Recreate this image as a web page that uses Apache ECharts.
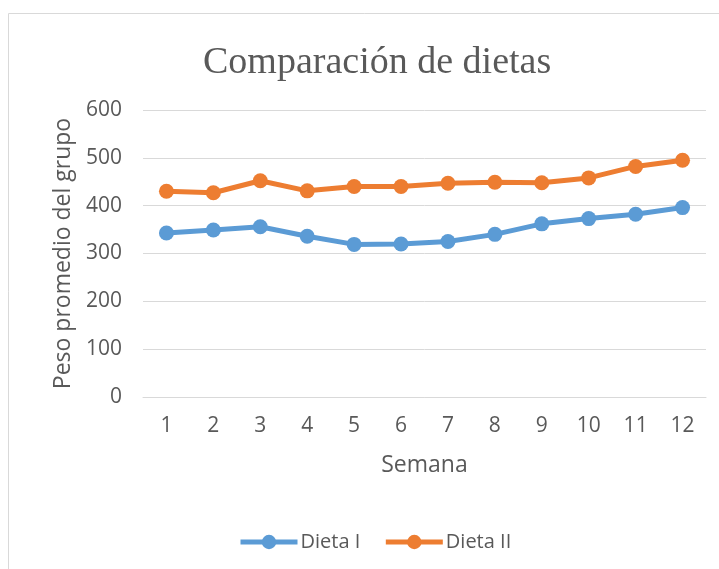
<!DOCTYPE html>
<html><head><meta charset="utf-8">
<script src="https://cdn.jsdelivr.net/npm/echarts@6/dist/echarts.min.js"></script>
<style>html,body{margin:0;padding:0;background:#fff}#c{width:719px;height:569px}</style>
</head><body><div id="c"></div>
<script>
const categories = ['1','2','3','4','5','6','7','8','9','10','11','12'];
const dietaI = [343, 349, 356, 336, 319, 320, 325, 340, 362, 373, 382, 396];
const dietaII = [430, 427, 452, 431, 440, 440, 447, 449, 448, 458, 482, 495];
const seriesNames = ['Dieta I', 'Dieta II'];
const yTicks = {min: 0, max: 600, interval: 100};

const chart = echarts.init(document.getElementById('c'));
const txt = '#595959';
const sans = '"Open Sans", "Noto Sans", sans-serif';
chart.setOption({
  animation: false,
  graphic: [
    {type:'rect', shape:{x:8.5, y:13.5, width:720, height:570}, style:{fill:'none', stroke:'#d9d9d9', lineWidth:1}, silent:true},
    {type:'text', left: 203, top: 44, style:{text:'Comparación de dietas', font:'38px "Liberation Serif", "DejaVu Serif", serif', fill: txt}, silent:true}
  ],
  grid: {left: 143, right: 13, top: 110, bottom: 172},
  legend: {top: 527, left: 233, itemWidth: 57, itemHeight: 18, itemGap: 23,
    lineStyle: {width: 5},
    textStyle: {fontFamily: sans, fontSize: 20, color: txt, padding: [0,0,0,-2]}, data: seriesNames},
  xAxis: {type: 'category', data: categories, boundaryGap: true,
    name: 'Semana', nameLocation: 'middle', nameGap: 57,
    nameTextStyle: {fontFamily: sans, fontSize: 23, color: txt},
    axisLine: {lineStyle: {color: '#d9d9d9', width: 1}}, axisTick: {show: false},
    axisLabel: {fontFamily: sans, fontSize: 21, color: txt, margin: 19}},
  yAxis: {type: 'value', min: yTicks.min, max: yTicks.max, interval: yTicks.interval,
    name: 'Peso promedio del grupo', nameLocation: 'middle', nameGap: 67,
    nameTextStyle: {fontFamily: sans, fontSize: 23, color: txt},
    axisLine: {show: false}, axisTick: {show: false},
    splitLine: {lineStyle: {color: '#d9d9d9', width: 1}},
    axisLabel: {fontFamily: sans, fontSize: 21, color: txt, margin: 21}},
  series: [
    {name: seriesNames[0], type: 'line', data: dietaI, symbol: 'circle', symbolSize: 15,
      lineStyle: {width: 5, color: '#5B9BD5'}, itemStyle: {color: '#5B9BD5'}},
    {name: seriesNames[1], type: 'line', data: dietaII, symbol: 'circle', symbolSize: 15,
      lineStyle: {width: 5, color: '#ED7D31'}, itemStyle: {color: '#ED7D31'}}
  ]
});
</script></body></html>
